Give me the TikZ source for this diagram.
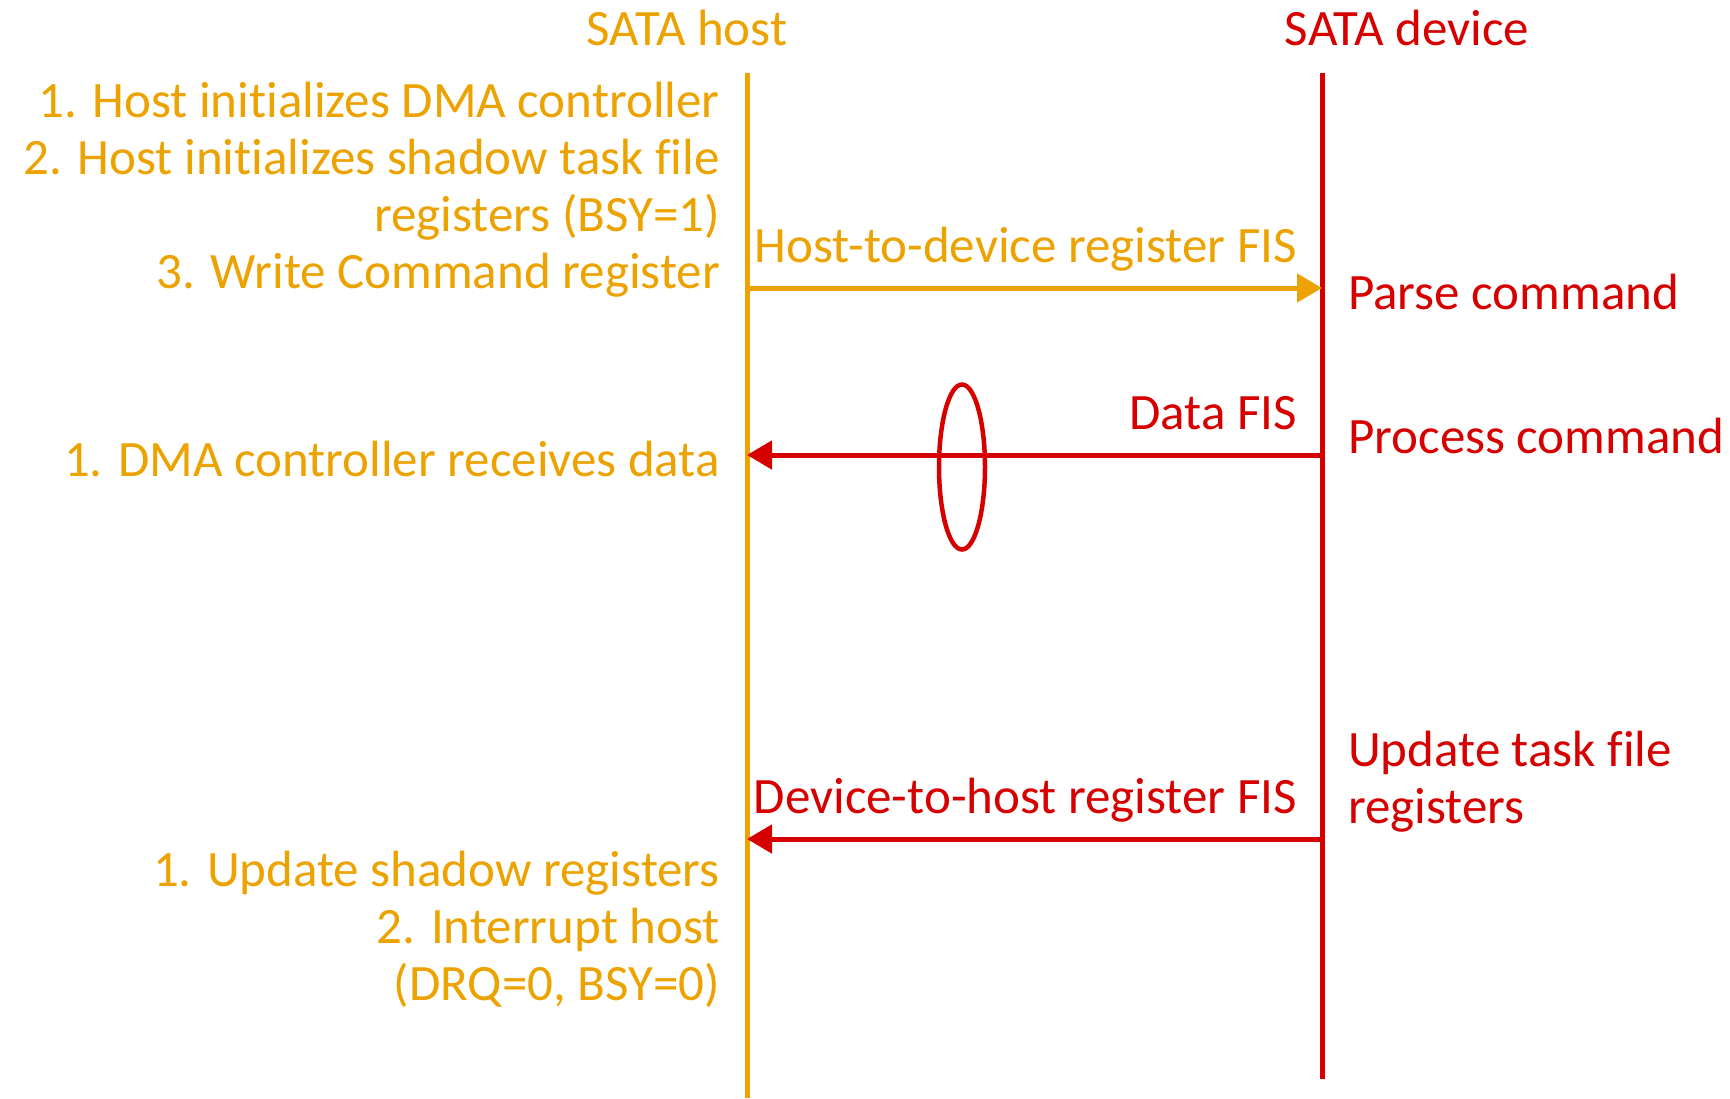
\documentclass[tikz,border=0pt]{standalone}
\usepackage{fontspec}
\setmainfont{Carlito}[Ligatures=NoCommon]
\usetikzlibrary{arrows.meta}
\definecolor{hostcol}{RGB}{236,162,0}
\definecolor{devcol}{RGB}{214,0,0}
\tikzset{
  lbl/.style={inner sep=0pt, font=\fontsize{51}{57}\selectfont},
  hosttxt/.style={lbl, text=hostcol},
  devtxt/.style={lbl, text=devcol},
  lifeline/.style={line width=5pt},
  msg/.style={line width=5pt, -{Triangle[length=25pt,width=28pt]}},
}
\begin{document}
\begin{tikzpicture}[x=1pt,y=-1pt]
\useasboundingbox (0,0) rectangle (1730,1098);

% lifeline end points
\coordinate (hostTop) at (747,73);
\coordinate (hostBot) at (747,1098);
\coordinate (devTop)  at (1322,73);
\coordinate (devBot)  at (1322,1079);

% message end points on the lifelines
\coordinate (h1) at (747,288);
\coordinate (d1) at (1322,288);
\coordinate (h2) at (747,455);
\coordinate (d2) at (1322,455);
\coordinate (h3) at (747,839);
\coordinate (d3) at (1322,839);

% lifelines
\draw[lifeline, hostcol] (hostTop) -- (hostBot);
\draw[lifeline, devcol]  (devTop) -- (devBot);

% headers
\node[hosttxt, anchor=base] (hostHead) at (687,45) {SATA host};
\node[devtxt,  anchor=base] (devHead)  at (1407,45) {SATA device};

% host actions before the command
\node[hosttxt, anchor=base east] (hA1) at (720,117) {1. Host initializes DMA controller};
\node[hosttxt, anchor=base east] (hA2) at (720,174) {2. Host initializes shadow task file};
\node[hosttxt, anchor=base east] (hA3) at (720,231) {registers (BSY=1)};
\node[hosttxt, anchor=base east] (hA4) at (720,288) {3. Write Command register};

% command FIS
\draw[msg, hostcol] (h1) -- (d1);
\node[hosttxt, anchor=base east] (m1) at (1297,262) {Host-to-device register FIS};
\node[devtxt, anchor=base west] (dA1) at (1348,309) {Parse command};

% data FIS
\draw[msg, devcol] (d2) -- (h2);
\node[devtxt, anchor=base east] (m2) at (1297,429) {Data FIS};
\node[devtxt, anchor=base west] (dA2) at (1348,453) {Process command};
\node[hosttxt, anchor=base east] (hB1) at (720,476) {1. DMA controller receives data};
\draw[devcol, line width=4.5pt] (962,467) ellipse [x radius=23, y radius=82.5];

% status FIS
\node[devtxt, anchor=base west] (dA3) at (1348,766) {Update task file};
\node[devtxt, anchor=base west] (dA4) at (1348,823) {registers};
\draw[msg, devcol] (d3) -- (h3);
\node[devtxt, anchor=base east] (m3) at (1297,813) {Device-to-host register FIS};
\node[hosttxt, anchor=base east] (hC1) at (720,886) {1. Update shadow registers};
\node[hosttxt, anchor=base east] (hC2) at (720,943) {2. Interrupt host};
\node[hosttxt, anchor=base east] (hC3) at (720,1000) {(DRQ=0, BSY=0)};
\end{tikzpicture}
\end{document}
